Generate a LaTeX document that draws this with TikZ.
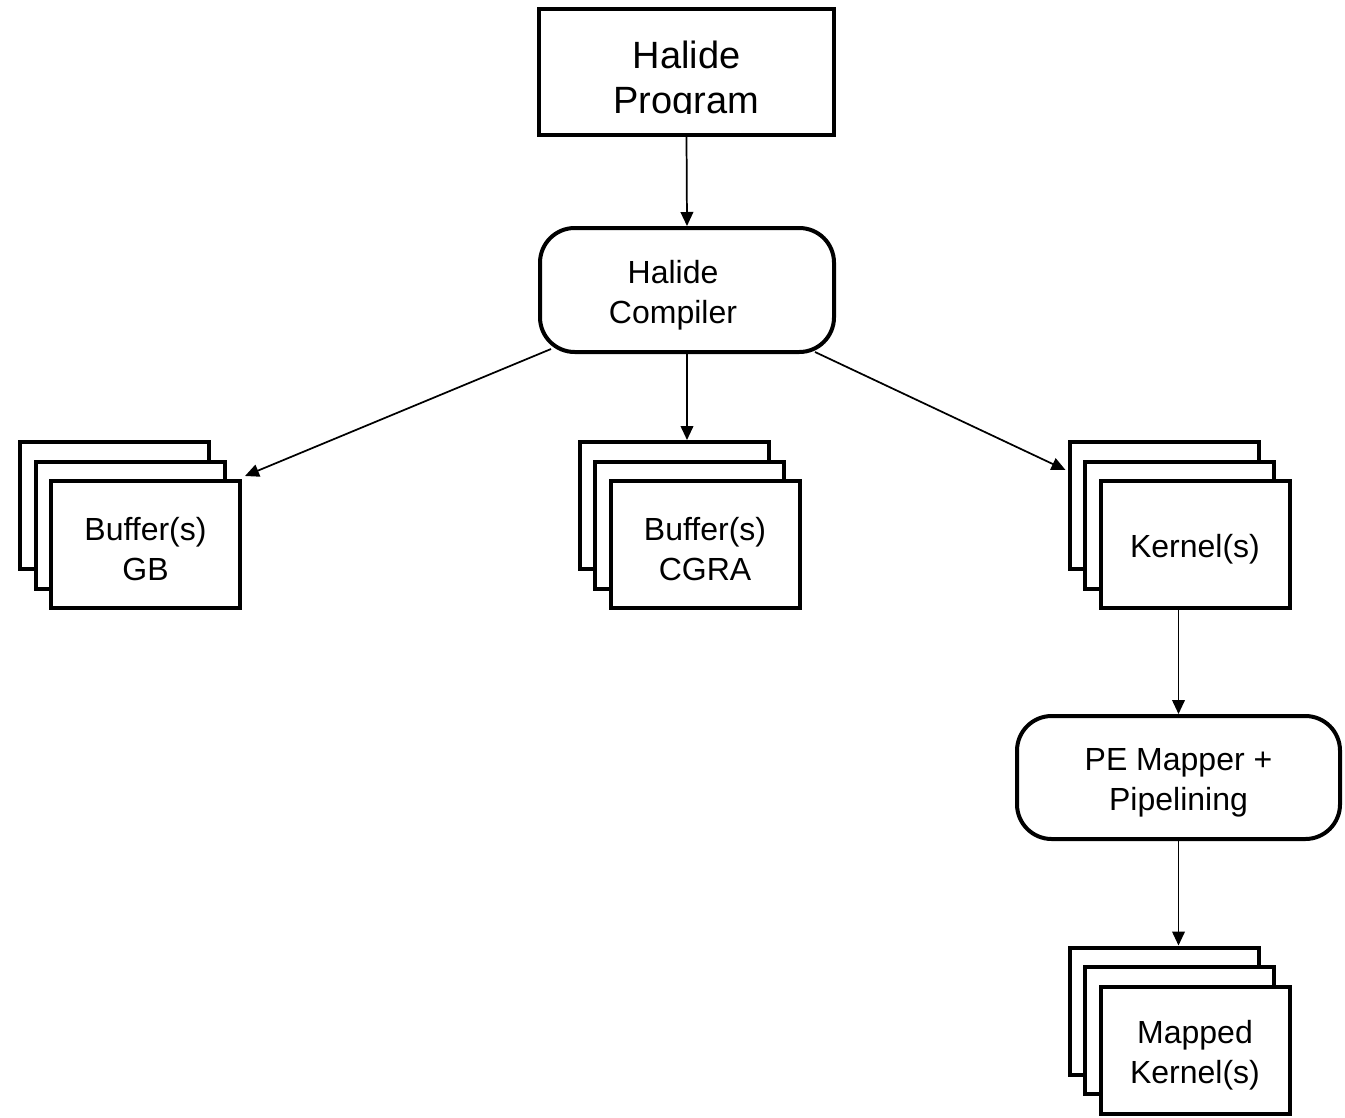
\documentclass[tikz,border=0pt]{standalone}
\usepackage{fontspec}
\setmainfont{Liberation Sans}
\usetikzlibrary{arrows.meta,calc}

\tikzset{
  box/.style={draw, line width=3pt, fill=white, align=center, inner sep=0pt},
  roundbox/.style={box, rounded corners=26pt},
  boxtext/.style={align=center, font=\fontsize{24pt}{30pt}\selectfont, yshift=-3.75pt},
  stackbox/.style={box, minimum width={189*0.75pt}, minimum height={127*0.75pt}},
  flow/.style={line width=1.3pt, -{Triangle[length=10.5pt,width=9.5pt]}}
}

% a stack of three overlapping sheets; the front one carries the text
\newcommand\sheetstack[4]{%
  \node[stackbox] (#1b) at ({#2-31},{#3-39}) {};
  \node[stackbox] (#1m) at ({#2-15.5},{#3-19.5}) {};
  \node[stackbox, label={[boxtext]center:#4}] (#1) at (#2,#3) {};
}

\begin{document}
\begin{tikzpicture}[x=0.75pt, y=-0.75pt]
\useasboundingbox (0,0) rectangle (1345,1117);

% source program
\node[box, minimum width={295*0.75pt}, minimum height={126*0.75pt}] (prog) at (686.5,72) {};
\begin{scope}
  \clip (537,0) rectangle (836,113);
  \node[align=center, font=\fontsize{28.5pt}{34pt}\selectfont] (progtext) at (686.5,81) {Halide\\Program};
\end{scope}

% compiler
\node[roundbox, minimum width={294*0.75pt}, minimum height={124*0.75pt},
      label={[boxtext, xshift={-14*0.75pt}]center:Halide\\Compiler}]
      (comp) at (687,290) {};

% outputs of the compiler
\sheetstack{gb}{145.5}{544.5}{Buffer(s)\\GB}
\sheetstack{cgra}{705}{544.5}{Buffer(s)\\CGRA}
\sheetstack{kern}{1195}{544.5}{Kernel(s)}

% mapping stage
\node[roundbox, minimum width={323*0.75pt}, minimum height={123*0.75pt},
      label={[boxtext]center:PE Mapper +\\Pipelining}] (pe) at (1178.5,777.5) {};

\sheetstack{mk}{1195}{1050}{Mapped\\Kernel(s)}

% connectors
\draw[flow] (prog.south) -- (comp.north);
\draw[flow] ([shift={(13,-5)}]comp.south west) -- ([shift={(3,-3)}]gb.north east);
\draw[flow] (comp.south) -- (comp.south |- cgrab.north);
\draw[flow] ([shift={(-21,-2)}]comp.south east) -- ([shift={(-2,30)}]kernb.north west);
\draw[flow] (pe.north |- kern.south) -- (pe.north);
\draw[flow] (pe.south) -- (pe.south |- mkb.north);
\end{tikzpicture}
\end{document}
